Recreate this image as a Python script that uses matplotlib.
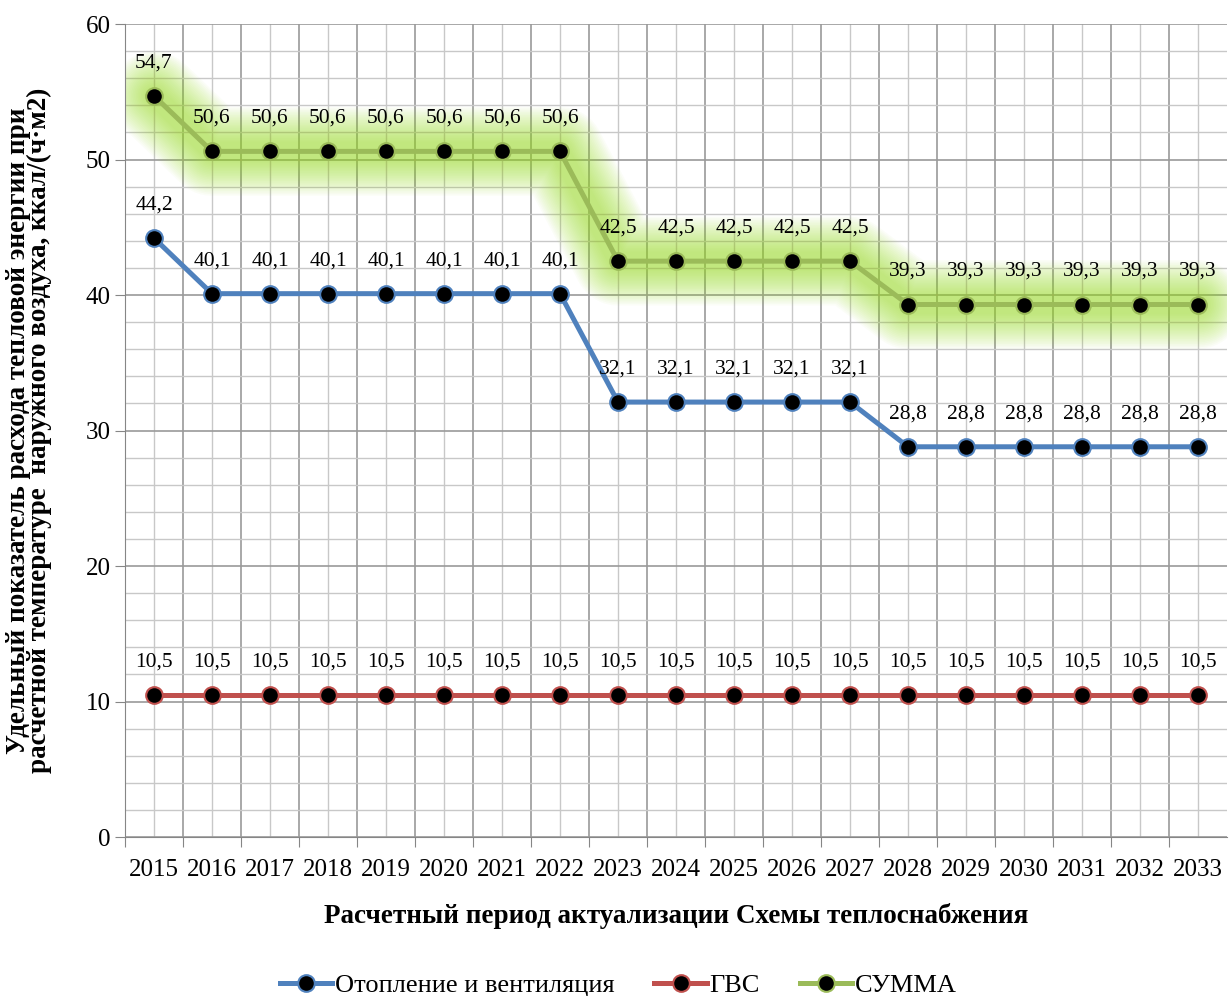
import matplotlib
matplotlib.use("Agg")
import matplotlib.pyplot as plt
from matplotlib.ticker import MultipleLocator, FixedLocator
import numpy as np

# Данные графика
years = ['2015', '2016', '2017', '2018', '2019', '2020', '2021', '2022', '2023',
         '2024', '2025', '2026', '2027', '2028', '2029', '2030', '2031', '2032', '2033']
otoplenie = [44.2, 40.1, 40.1, 40.1, 40.1, 40.1, 40.1, 40.1, 32.1,
             32.1, 32.1, 32.1, 32.1, 28.8, 28.8, 28.8, 28.8, 28.8, 28.8]
gvs = [10.5] * 19
summa = [54.7, 50.6, 50.6, 50.6, 50.6, 50.6, 50.6, 50.6, 42.5,
         42.5, 42.5, 42.5, 42.5, 39.3, 39.3, 39.3, 39.3, 39.3, 39.3]

series_names = ['Отопление и вентиляция', 'ГВС', 'СУММА']
colors = ['#4F81BD', '#C0504D', '#9BBB59']

plt.rcParams['font.family'] = ['Liberation Serif', 'DejaVu Serif']

fig = plt.figure(figsize=(12.29, 9.96), dpi=100)
ax = fig.add_axes([0.1017, 0.1596, 0.8967, 0.8163])

x = np.arange(len(years))

# Свечение вокруг линии СУММА (много слоёв для плавного перехода)
for lw in np.linspace(64, 14, 22):
    ax.plot(x, summa, color='#9BE020', lw=lw, alpha=0.035,
            solid_capstyle='round', solid_joinstyle='round', zorder=2)

for vals, name, c in zip([otoplenie, gvs, summa], series_names, colors):
    ax.plot(x, vals, color=c, lw=3.6, marker='o', markersize=12,
            markerfacecolor='black', markeredgecolor=c, markeredgewidth=1.5,
            label=name, zorder=4)
    for xi, v in zip(x, vals):
        ax.annotate(f"{v:.1f}".replace('.', ','), (xi, v), xytext=(0, 17),
                    textcoords='offset points', ha='center', va='bottom',
                    fontsize=15.5, zorder=5)

ax.set_xlim(-0.5, len(years) - 0.5)
ax.set_ylim(0, 60)
ax.yaxis.set_major_locator(MultipleLocator(10))
ax.yaxis.set_minor_locator(MultipleLocator(2))
ax.xaxis.set_major_locator(FixedLocator(x - 0.5))
ax.xaxis.set_minor_locator(FixedLocator(x))
ax.set_xticks(x, years, minor=True)
ax.set_xticklabels([''] * len(x))

ax.grid(which='major', color='#9A9A9A', lw=1.2, zorder=0)
ax.grid(which='minor', color='#C8C8C8', lw=1.0, zorder=0)
ax.set_axisbelow(True)

ax.tick_params(axis='x', which='major', length=7, color='#868686')
ax.tick_params(axis='x', which='minor', length=0, labelsize=18, pad=16)
ax.tick_params(axis='y', which='major', length=7, color='#868686', labelsize=18)
ax.tick_params(axis='y', which='minor', length=0)

for side in ['top', 'right']:
    ax.spines[side].set_visible(False)
ax.spines['left'].set_color('#868686')
ax.spines['bottom'].set_color('#868686')

ax.set_xlabel('Расчетный период актуализации Схемы теплоснабжения',
              fontsize=19.5, fontweight='bold', labelpad=16)
ax.set_ylabel('Удельный показатель расхода тепловой энергии при\n'
              'расчетной температуре  наружного воздуха, ккал/(ч·м2)',
              fontsize=19.5, fontweight='bold', labelpad=24, linespacing=0.78)

fig.legend(loc='center', bbox_to_anchor=(0.503, 0.011), ncol=3,
           frameon=False, fontsize=19, handlelength=2.0, columnspacing=1.5,
           handletextpad=0.1)

fig.savefig('out.png', dpi=100)
